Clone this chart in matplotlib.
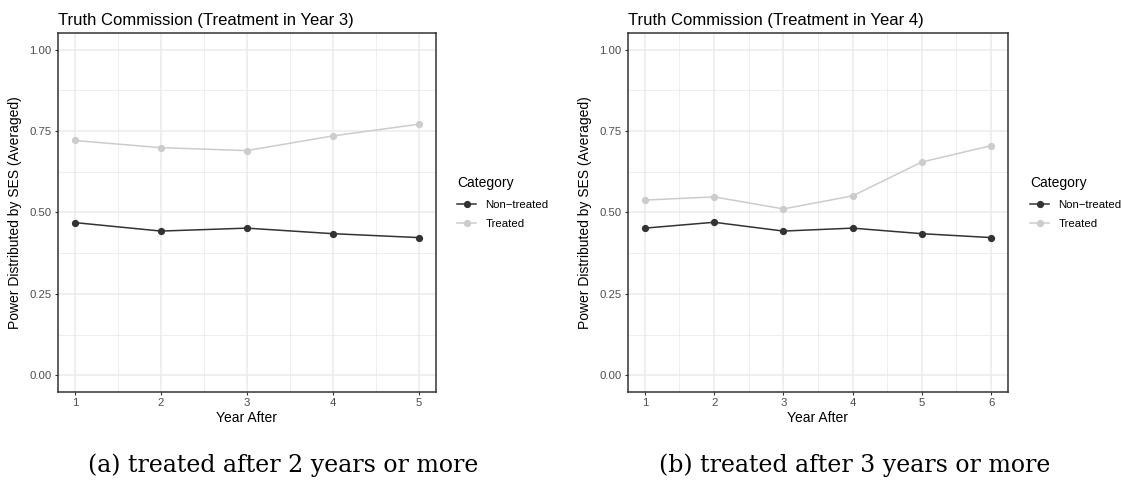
import matplotlib
matplotlib.use("Agg")
import matplotlib.pyplot as plt
from matplotlib.ticker import MultipleLocator

plt.rcParams['font.family'] = ['Liberation Sans', 'DejaVu Sans']

# panel (a): treatment in year 3
years_a = [1, 2, 3, 4, 5]
nontreated_a = [0.469, 0.443, 0.452, 0.435, 0.423]
treated_a = [0.721, 0.699, 0.690, 0.735, 0.771]

# panel (b): treatment in year 4
years_b = [1, 2, 3, 4, 5, 6]
nontreated_b = [0.452, 0.470, 0.443, 0.452, 0.435, 0.423]
treated_b = [0.538, 0.548, 0.511, 0.551, 0.655, 0.705]

titles = ['Truth Commission (Treatment in Year 3)',
          'Truth Commission (Treatment in Year 4)']
captions = ['(a) treated after 2 years or more',
            '(b) treated after 3 years or more']
categories = ['Non\u2212treated', 'Treated']
colors = ['#333333', '#CCCCCC']

W, H = 1125, 484
fig = plt.figure(figsize=(W / 100, H / 100), dpi=100)

# axes boxes in pixels: left, right
boxes = [(57.7, 436.0), (627.5, 1008.4)]
top_px, bot_px = 33.3, 391.7
legend_x = [457.0, 1030.0]
caption_x = [283.0, 855.0]

panels = [(years_a, nontreated_a, treated_a), (years_b, nontreated_b, treated_b)]

for i, (yrs, nt, tr) in enumerate(panels):
    l, r = boxes[i]
    ax = fig.add_axes([l / W, 1 - bot_px / H, (r - l) / W, (bot_px - top_px) / H])
    span = yrs[-1] - yrs[0]
    ax.set_xlim(yrs[0] - 0.05 * span, yrs[-1] + 0.05 * span)
    ax.set_ylim(-0.05, 1.05)
    ax.set_xticks(yrs)
    ax.xaxis.set_minor_locator(MultipleLocator(0.5))
    ax.set_yticks([0, 0.25, 0.5, 0.75, 1.0])
    ax.set_yticklabels(['0.00', '0.25', '0.50', '0.75', '1.00'])
    ax.yaxis.set_minor_locator(MultipleLocator(0.125))
    ax.grid(which='major', color='#EBEBEB', linewidth=1.1)
    ax.grid(which='minor', color='#EBEBEB', linewidth=0.6)
    ax.set_axisbelow(True)
    for s in ax.spines.values():
        s.set_color('#333333')
        s.set_linewidth(1.1)
    ax.tick_params(which='major', length=2.5, width=0.8, color='#333333',
                   labelsize=8.2, labelcolor='#4D4D4D', pad=2)
    ax.tick_params(which='minor', length=0)

    for vals, lab, c in zip([nt, tr], categories, colors):
        ax.plot(yrs, vals, color=c, linewidth=1.1, marker='o', markersize=4.2,
                label=lab)

    ax.set_xlabel('Year After', fontsize=10, labelpad=2)
    ax.set_ylabel('Power Distributed by SES (Averaged)', fontsize=10, labelpad=5)
    ax.set_title(titles[i], fontsize=12, loc='left', pad=6)

    leg = ax.legend(loc='upper left', bbox_to_anchor=(legend_x[i] / W, 1 - 176 / H),
                    bbox_transform=fig.transFigure, frameon=False, title='Category',
                    fontsize=8.2, title_fontsize=10, handlelength=1.7,
                    labelspacing=0.85, borderaxespad=0, borderpad=0, handletextpad=0.8)
    leg._legend_box.align = 'left'

    fig.text(caption_x[i] / W, 1 - 472 / H, captions[i], ha='center', va='baseline',
             fontsize=17, family='DejaVu Serif')

fig.savefig('out.png', dpi=100)
